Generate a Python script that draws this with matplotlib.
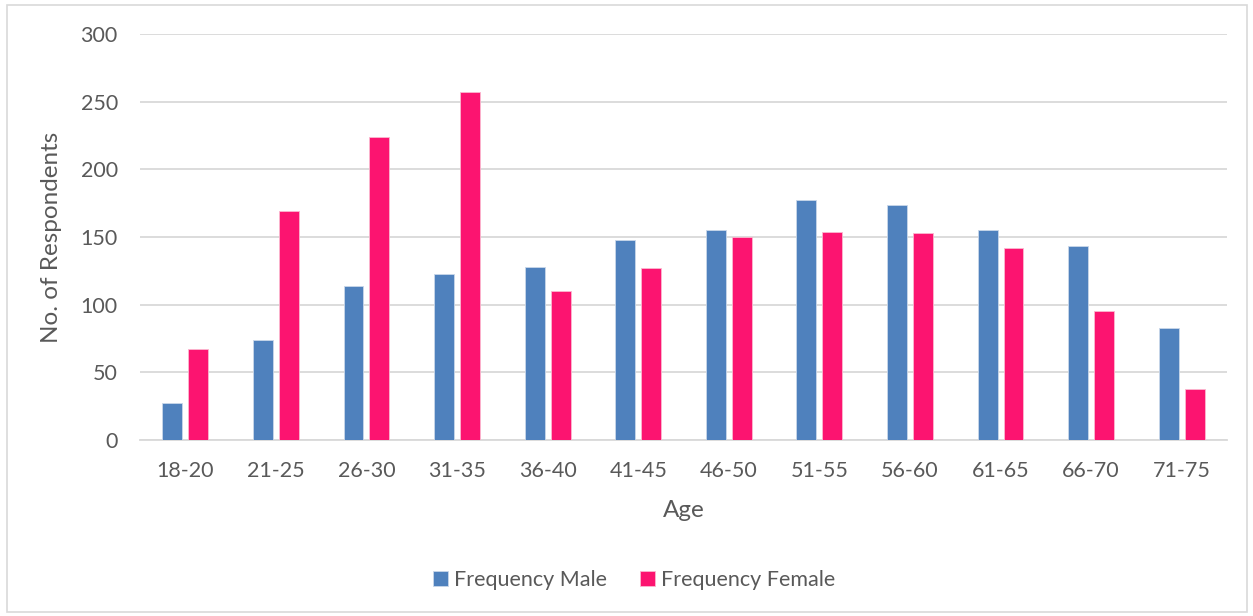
import matplotlib
matplotlib.use("Agg")
import matplotlib.pyplot as plt
import numpy as np
from matplotlib.patches import Rectangle

categories = ["18-20", "21-25", "26-30", "31-35", "36-40", "41-45",
              "46-50", "51-55", "56-60", "61-65", "66-70", "71-75"]
male = [27, 74, 114, 123, 128, 148, 155, 177, 174, 155, 143, 83]
female = [67, 169, 224, 257, 110, 127, 150, 154, 153, 142, 95, 38]
yticks = [0, 50, 100, 150, 200, 250, 300]

plt.rcParams['font.family'] = ['Lato', 'DejaVu Sans']
text_color = "#595959"

fig = plt.figure(figsize=(12.53, 6.16), dpi=100)
ax = fig.add_axes([140/1253, 176/616, 1087/1253, 406/616])

x = np.arange(len(categories))
w = 0.22
off = 0.143
ax.bar(x - off, male, width=w, color="#4F81BD", edgecolor="#C9D7EA", linewidth=0.6,
       label="Frequency Male", zorder=3)
ax.bar(x + off, female, width=w, color="#FC1470", edgecolor="#FBB8CF", linewidth=0.6,
       label="Frequency Female", zorder=3)

ax.set_xlim(-0.5, len(categories) - 0.5)
ax.set_ylim(0, 300)
ax.set_yticks(yticks)
ax.set_xticks(x)
ax.set_xticklabels(categories)
ax.yaxis.grid(True, color="#D9D9D9", linewidth=1.3, zorder=0)
ax.set_axisbelow(True)
for s in ["top", "right", "left"]:
    ax.spines[s].set_visible(False)
ax.spines["bottom"].set_color("#D9D9D9")
ax.spines["bottom"].set_linewidth(1.3)
ax.tick_params(axis="both", length=0, labelsize=15.5, colors=text_color)
ax.tick_params(axis="x", pad=15)
ax.tick_params(axis="y", pad=16)
ax.set_xlabel("Age", fontsize=17.5, color=text_color, labelpad=14)
ax.set_ylabel("No. of Respondents", fontsize=17.5, color=text_color, labelpad=13)

leg = fig.legend(loc="center", bbox_to_anchor=(634/1253, 1 - 580/616), ncol=2,
                 frameon=False, fontsize=15.5, handlelength=0.7, handleheight=0.7,
                 columnspacing=1.5, handletextpad=0.3)
for t in leg.get_texts():
    t.set_color(text_color)

fig.patches.append(Rectangle((7/1253, 4/616), 1240/1253, 607/616, transform=fig.transFigure,
                             fill=False, edgecolor="#D9D9D9", linewidth=1.2))

fig.savefig("out.png", dpi=100, facecolor="white")
